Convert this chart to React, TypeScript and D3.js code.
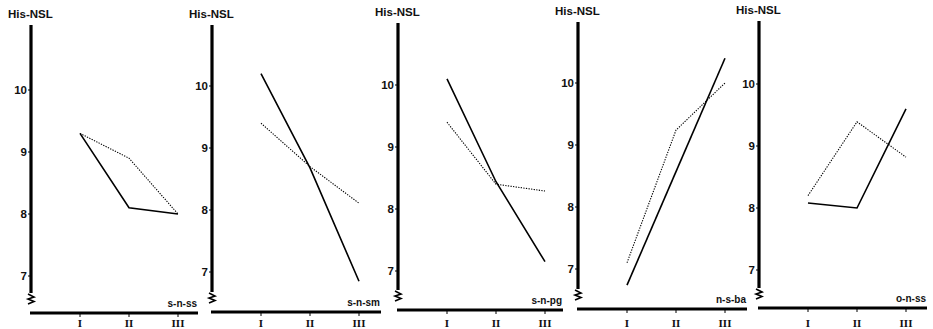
import React from "react";
import * as d3 from "d3";

const categories = ["I", "II", "III"];
const yTicks = [7, 8, 9, 10];
const panelLabels = ["s-n-ss", "s-n-sm", "s-n-pg", "n-s-ba", "o-n-ss"];
const yTitle = "His-NSL";
const solidSeries = [
  [9.3, 8.1, 8.0],
  [10.2, 8.68, 6.85],
  [10.1, 8.44, 7.15],
  [6.74, 8.57, 10.4],
  [8.08, 8.0, 9.6],
];
const dottedSeries = [
  [9.3, 8.9, 8.0],
  [9.4, 8.7, 8.11],
  [9.4, 8.4, 8.29],
  [7.1, 9.24, 10.0],
  [8.2, 9.39, 8.82],
];

// layout of each panel (scan offsets)
const layout = [
  { ax: 31, y10: 90, xAxisY: 313, top: 25, end: 198 },
  { ax: 212, y10: 86, xAxisY: 312, top: 25, end: 381 },
  { ax: 398, y10: 85, xAxisY: 310, top: 23, end: 563 },
  { ax: 578, y10: 83, xAxisY: 309, top: 22, end: 747 },
  { ax: 759, y10: 84, xAxisY: 308, top: 21, end: 927 },
];

function Panel({ i }: { i: number }) {
  const L = layout[i];
  const y = d3.scaleLinear().domain([7, 10]).range([L.y10 + 186, L.y10]);
  const x = d3.scalePoint<string>().domain(categories).range([L.ax + 49, L.ax + 147]);
  const line = d3
    .line<number>()
    .x((_, j) => x(categories[j]) as number)
    .y((v) => y(v));
  const axisBottom = L.xAxisY - 20;
  const zz = axisBottom + 1;
  const squiggle = `M${L.ax - 3},${zz} L${L.ax + 3},${zz + 3} L${L.ax - 3},${zz + 5} L${L.ax + 3},${zz + 7.5} L${L.ax - 3},${zz + 10}`;
  return (
    <g>
      <text
        x={L.ax - 23}
        y={L.top - 7}
        fontFamily="Liberation Sans, Arial, sans-serif"
        fontWeight="bold"
        fontSize={11.5}
        fill="#111"
      >
        {yTitle}
      </text>
      <line x1={L.ax} x2={L.ax} y1={L.top} y2={axisBottom} stroke="#000" strokeWidth={3.2} />
      <path d={squiggle} fill="none" stroke="#000" strokeWidth={1.6} />
      <line x1={L.ax - 1} x2={L.end} y1={L.xAxisY} y2={L.xAxisY} stroke="#000" strokeWidth={3.2} />
      {yTicks.map((t) => (
        <g key={t}>
          <line x1={L.ax - 3} x2={L.ax} y1={y(t)} y2={y(t)} stroke="#000" strokeWidth={1} />
          <text
            x={L.ax - 4}
            y={y(t) + 4}
            textAnchor="end"
            fontFamily="Liberation Sans, Arial, sans-serif"
            fontSize={11.5}
            fontWeight="bold"
            fill="#111"
          >
            {t}
          </text>
        </g>
      ))}
      {categories.map((c) => (
        <g key={c}>
          <line
            x1={x(c) as number}
            x2={x(c) as number}
            y1={L.xAxisY}
            y2={L.xAxisY + 4}
            stroke="#000"
            strokeWidth={1}
          />
          <text
            x={x(c) as number}
            y={327}
            textAnchor="middle"
            fontFamily="Liberation Serif, serif"
            fontWeight="bold"
            fontSize={11}
            fill="#111"
          >
            {c}
          </text>
        </g>
      ))}
      <text
        x={L.end - 1}
        y={L.xAxisY - 6}
        textAnchor="end"
        fontFamily="Liberation Sans, Arial, sans-serif"
        fontWeight="bold"
        fontSize={10}
        fill="#111"
      >
        {panelLabels[i]}
      </text>
      <path d={line(dottedSeries[i]) || ""} fill="none" stroke="#000" strokeWidth={1.1} strokeDasharray="1.3,1.3" />
      <path d={line(solidSeries[i]) || ""} fill="none" stroke="#000" strokeWidth={1.6} />
    </g>
  );
}

export default function App() {
  return (
    <svg
      width={933}
      height={329}
      style={{ position: "absolute", left: 0, top: 0, background: "#fff" }}
    >
      <rect width={933} height={329} fill="#fff" />
      {panelLabels.map((_, i) => (
        <Panel key={i} i={i} />
      ))}
    </svg>
  );
}
